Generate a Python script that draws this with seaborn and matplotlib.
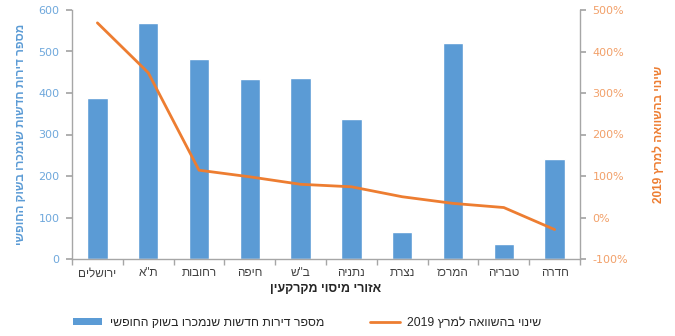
import re
import numpy as np
import pandas as pd
import matplotlib
matplotlib.use("Agg")
import matplotlib.pyplot as plt
from matplotlib.ticker import FuncFormatter, FixedLocator
from matplotlib.patches import Patch
from matplotlib.lines import Line2D
import seaborn as sns

# ---- data ----
regions = ["ירושלים", "ת\"א", "רחובות", "חיפה", "ב\"ש", "נתניה", "נצרת", "המרכז", "טבריה", "חדרה"]
apartments_sold = [387, 568, 481, 433, 435, 337, 66, 520, 37, 241]
change_pct = [469, 349, 114, 98, 80, 74, 50, 34, 24, -29]

bar_label = "מספר דירות חדשות שנמכרו בשוק החופשי"
line_label = "שינוי בהשוואה למרץ 2019"
x_title = "אזורי מיסוי מקרקעין"


def vis(s):
    """Convert logical RTL string to visual order for LTR rendering."""
    r = s[::-1]
    return re.sub(r"[0-9A-Za-z.%]+", lambda m: m.group(0)[::-1], r)


BLUE = "#5B9BD5"
ORANGE = "#ED7D31"
GRID = "#A6A6A6"
HEB = ["Liberation Sans", "DejaVu Sans"]

sns.set_theme(style="white")
plt.rcParams["font.family"] = ["DejaVu Sans"]

vis_regions = [vis(r) for r in regions]
df = pd.DataFrame({"region": vis_regions, "sold": apartments_sold, "pct": change_pct})

fig = plt.figure(figsize=(6.75, 3.36), dpi=100)
ax = fig.add_axes([72 / 675, 77 / 336, 508 / 675, 249 / 336])

sns.barplot(data=df, x="region", y="sold", color=BLUE, saturation=1, width=0.4,
            ax=ax, order=vis_regions)
ax2 = ax.twinx()
sns.pointplot(data=df, x="region", y="pct", color=ORANGE, markers="", linestyles="-",
              ax=ax2, order=vis_regions, linewidth=2)
for l in ax2.lines:
    l.set_linewidth(2)

ax.set_xlim(-0.5, len(regions) - 0.5)
ax.set_ylim(0, 600)
ax.set_yticks(np.arange(0, 601, 100))
ax2.set_ylim(-100, 500)
ax2.set_yticks(np.arange(-100, 501, 100))
ax2.yaxis.set_major_formatter(FuncFormatter(lambda v, p: f"{int(v)}%"))

for a in (ax, ax2):
    for s in a.spines.values():
        s.set_visible(False)
ax.spines["left"].set_visible(True)
ax.spines["bottom"].set_visible(True)
ax2.spines["right"].set_visible(True)
for s in (ax.spines["left"], ax.spines["bottom"], ax2.spines["right"]):
    s.set_color(GRID)
    s.set_linewidth(1)

ax.tick_params(axis="y", left=True, length=4, color=GRID, labelsize=8,
               labelcolor="#6FA8DC", pad=5)
ax2.tick_params(axis="y", right=True, length=4, color=GRID, labelsize=8,
                labelcolor="#F2A069", pad=5)

# x ticks: labels at centers, tick marks at boundaries
ax.set_xticks(range(len(regions)))
ax.set_xticklabels(vis_regions, family=HEB, fontsize=8.5, color="#404040")
ax.tick_params(axis="x", which="major", length=0, pad=6)
ax.xaxis.set_minor_locator(FixedLocator(np.arange(-0.5, len(regions), 1)))
ax.tick_params(axis="x", which="minor", bottom=True, length=4, color=GRID)

ax.set_xlabel(vis(x_title), family=HEB, fontsize=9, fontweight="bold",
              color="#262626", labelpad=3)
ax.set_ylabel(vis(bar_label), family=HEB, fontsize=8.5, fontweight="bold",
              color=BLUE, labelpad=8)
ax2.set_ylabel(vis(line_label), family=HEB, fontsize=8.5, fontweight="bold",
               color=ORANGE, rotation=90, labelpad=18)

handles = [Patch(facecolor=BLUE, edgecolor="none"),
           Line2D([0], [0], color=ORANGE, lw=2)]
leg = fig.legend(handles, [vis(bar_label), vis(line_label)], loc="center",
                 bbox_to_anchor=(0.455, 0.04), ncol=2, frameon=False,
                 handlelength=2.4, handleheight=0.5, columnspacing=3.8,
                 handletextpad=0.6, prop={"family": HEB, "size": 8.8})
for t in leg.get_texts():
    t.set_color("#262626")

fig.savefig("out.png", dpi=100)
